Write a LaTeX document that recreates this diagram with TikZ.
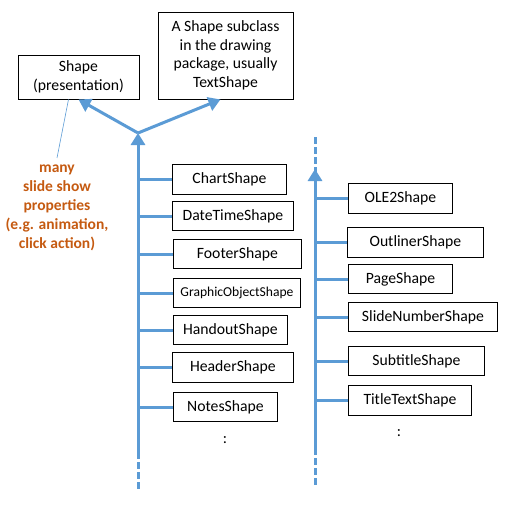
\documentclass[tikz,border=0pt]{standalone}
\usepackage{fontspec}
\setmainfont{Carlito}
\usetikzlibrary{arrows.meta,positioning}
\definecolor{umlblue}{RGB}{91,155,213}
\definecolor{noteorange}{RGB}{197,90,17}
\tikzset{
  cls/.style={draw,line width=0.9pt,anchor=west,minimum height=29.5pt,inner sep=0pt,
    font=\fontsize{15.7}{18}\selectfont},
  topcls/.style={draw,line width=0.9pt,align=center,inner sep=0pt,
    font=\fontsize{15.7}{18.5}\selectfont},
  branch/.style={umlblue,line width=3pt},
  inherit/.style={umlblue,line width=3pt,-{Triangle[width=14pt,length=12pt]}},
  cont/.style={umlblue,line width=3pt,dash pattern=on 7pt off 3pt},
}
\begin{document}
\begin{tikzpicture}[x=1pt,y=-1pt]
  \useasboundingbox (0,0) rectangle (511,504);
  % base classes
  \node[topcls,minimum width=121pt,minimum height=44pt] (shape) at (78.5,77) {Shape\\(presentation)};
  \node[topcls,minimum width=135pt,minimum height=87pt] (sub) at (225.5,55.5)
    {A Shape subclass\\in the drawing\\package, usually\\TextShape};
  \node[align=center,text=noteorange,font=\fontsize{15.5}{19}\selectfont\bfseries] (note) at (57,207.5)
    {many\\slide show\\properties\\(e.g. animation,\\click action)};
  \draw[umlblue,line width=0.6pt] ([xshift=-10pt]shape.south) -- ([yshift=3pt]note.north);
  % left group
  \coordinate (ljoin) at (138,133);
  \coordinate (lbot) at (138,452);
  \coordinate (lend) at (138,490);
  \node[cls,minimum width=114pt] (chart) at (172,179.5) {ChartShape};
  \node[cls,minimum width=121pt] (datetime) at (172,216) {DateTimeShape};
  \node[cls,minimum width=128pt] (footer) at (173,254) {FooterShape};
  \node[cls,minimum width=127pt,font=\fontsize{13.6}{15}\selectfont] (graphic) at (173,293) {GraphicObjectShape};
  \node[cls,minimum width=114pt] (handout) at (173,330) {HandoutShape};
  \node[cls,minimum width=121pt] (header) at (172,367.5) {HeaderShape};
  \node[cls,minimum width=104pt] (notes) at (173,407) {NotesShape};
  \node[font=\fontsize{15.7}{18}\selectfont] (ldots) at (225,440) {:};
  \draw[inherit] (lbot) -- (ljoin);
  \draw[inherit] (ljoin) -- (shape.south);
  \draw[inherit] (ljoin) -- ([xshift=-5pt]sub.south);
  \draw[cont] (lbot) -- (lend);
  \foreach \c in {chart,datetime,footer,graphic,handout,header,notes}
    \draw[branch] (lbot |- \c.west) -- (\c.west);
  % right group
  \coordinate (rtop) at (315,137);
  \coordinate (rtip) at (315,169);
  \coordinate (rbot) at (315,448);
  \coordinate (rend) at (315,487);
  \node[cls,minimum width=104pt] (ole) at (348,198.5) {OLE2Shape};
  \node[cls,minimum width=136pt] (outliner) at (347,242.5) {OutlinerShape};
  \node[cls,minimum width=104pt] (page) at (348,279) {PageShape};
  \node[cls,minimum width=149pt] (slidenum) at (348,317) {SlideNumberShape};
  \node[cls,minimum width=136pt] (subtitle) at (348,361) {SubtitleShape};
  \node[cls,minimum width=123pt] (titletext) at (348,400.5) {TitleTextShape};
  \node[font=\fontsize{15.7}{18}\selectfont] (rdots) at (399,433) {:};
  \draw[inherit] (rbot) -- (rtip);
  \draw[cont] (rtop) -- ([yshift=-3pt]rtip);
  \draw[cont] (rbot) -- (rend);
  \foreach \c in {ole,outliner,page,slidenum,subtitle,titletext}
    \draw[branch] (rbot |- \c.west) -- (\c.west);
\end{tikzpicture}
\end{document}
